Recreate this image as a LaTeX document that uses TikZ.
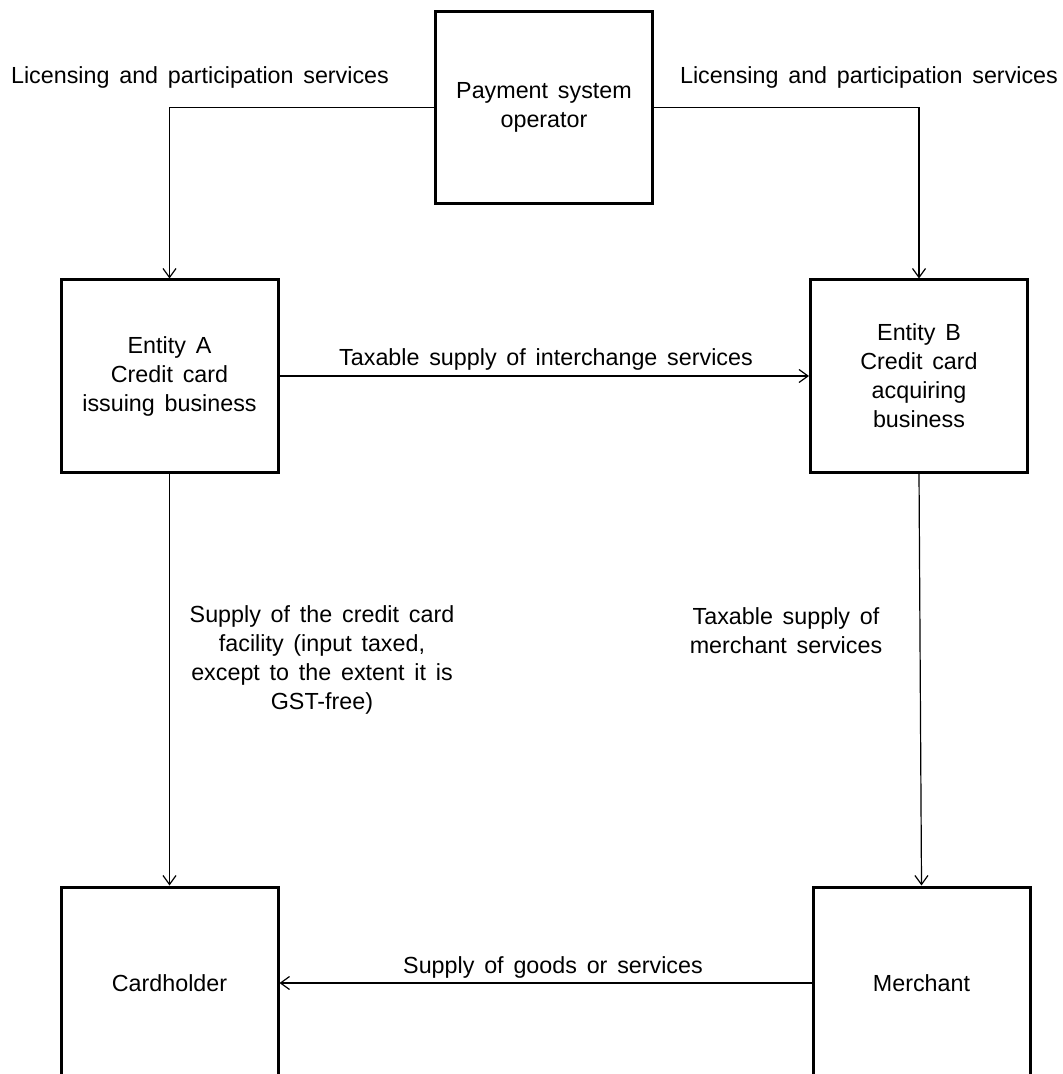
\documentclass[tikz,border=0pt]{standalone}
\usepackage{fontspec}
\setmainfont{Liberation Sans}
\usetikzlibrary{arrows.meta}
\newcommand\diafont{\fontsize{11.65}{14.5}\selectfont\spaceskip 4.9pt\relax}
\begin{document}
\begin{tikzpicture}[x=0.5pt,y=-0.5pt,
        every node/.style={font=\diafont},
        box/.style={draw,line width=1.5pt,minimum width=108.5pt,minimum height=96pt,align=center,inner sep=0pt},
        lbl/.style={align=center,inner sep=0pt},
        flow/.style={line width=0.6pt,-{Straight Barb[length=4.5pt,width=6.5pt]}}]
    \useasboundingbox (0,0) rectangle (1062,1074);
    % boxes
    \node [box] (op) at (544,107.5) {Payment system\\operator};
    \node [box] (a) at (169.5,376) {Entity A\\Credit card\\issuing business};
    \node [box] (b) at (919,376) {Entity B\\Credit card\\acquiring\\business};
    \node [box] (ch) at (169.5,983) {Cardholder};
    \node [box] (m) at (921.5,983) {Merchant};
    % labels
    \node [lbl] (licl) at (200,77) {Licensing and participation services};
    \node [lbl] (licr) at (869,77) {Licensing and participation services};
    \node [lbl] (ic) at (546,359) {Taxable supply of interchange services};
    \node [lbl] (fac) at (322,659.5) {Supply of the credit card\\facility (input taxed,\\except to the extent it is\\GST-free)};
    \node [lbl] (ms) at (786,631) {Taxable supply of\\merchant services};
    \node [lbl] (gs) at (553,967) {Supply of goods or services};
    % connectors
    \draw [flow] (op.west) -| (a.north);
    \draw [flow] (op.east) -| (b.north);
    \draw [flow] (a.east) -- (b.west);
    \draw [flow] (a.south) -- (ch.north);
    \draw [flow] (b.south) -- (m.north);
    \draw [flow] (m.west) -- (ch.east);
\end{tikzpicture}
\end{document}
